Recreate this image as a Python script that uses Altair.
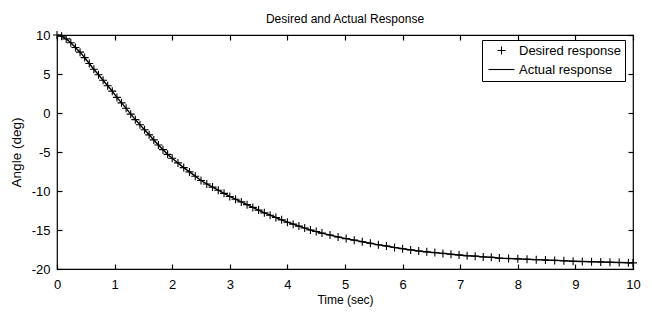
import altair as alt
import pandas as pd

# ---- data ----
time_sec = [
    0.00, 0.08, 0.16, 0.24, 0.32, 0.40, 0.48, 0.56, 0.64, 0.72, 0.80, 0.88, 0.96,
    1.04, 1.12, 1.20, 1.28, 1.36, 1.44, 1.52, 1.60, 1.68, 1.76, 1.84, 1.92, 2.00,
    2.10, 2.20, 2.30, 2.40, 2.50, 2.60, 2.70, 2.80, 2.90, 3.00, 3.10, 3.20, 3.30,
    3.40, 3.50, 3.60, 3.70, 3.80, 3.90, 4.00, 4.10, 4.20, 4.30, 4.40, 4.50, 4.60,
    4.74, 4.88, 5.02, 5.16, 5.30, 5.44, 5.58, 5.72, 5.86, 6.00, 6.14, 6.28, 6.42,
    6.56, 6.70, 6.84, 6.98, 7.12, 7.26, 7.40, 7.54, 7.68,
    7.84, 8.00, 8.16, 8.32, 8.48, 8.64, 8.80, 8.96, 9.12, 9.28, 9.44, 9.60, 9.76,
    9.92, 10.00,
]
desired_deg = [
    10.0, 9.85, 9.5, 9.0, 8.4, 7.8, 7.1, 6.35, 5.6, 4.9, 4.2, 3.5, 2.8,
    2.0, 1.3, 0.6, -0.15, -0.85, -1.5, -2.15, -2.8, -3.45, -4.1, -4.7, -5.3, -5.8,
    -6.4, -7.0, -7.55, -8.1, -8.65, -9.1, -9.5, -9.9, -10.3, -10.7, -11.05, -11.4, -11.75,
    -12.1, -12.45, -12.8, -13.1, -13.4, -13.7, -14.0, -14.25, -14.5, -14.75, -15.0, -15.2, -15.4,
    -15.65, -15.9, -16.1, -16.3, -16.5, -16.7, -16.9, -17.05, -17.25, -17.4, -17.55, -17.7, -17.8,
    -17.9, -18.0, -18.1, -18.2, -18.3, -18.35, -18.45, -18.5, -18.6,
    -18.65, -18.7, -18.75, -18.8, -18.85, -18.9, -18.95, -19.0, -19.03, -19.07, -19.1, -19.13, -19.17,
    -19.2, -19.22,
]
actual_deg = [
    10.0, 9.85, 9.5, 9.0, 8.4, 7.8, 7.1, 6.35, 5.6, 4.9, 4.2, 3.5, 2.8,
    2.0, 1.3, 0.6, -0.15, -0.85, -1.5, -2.15, -2.8, -3.45, -4.1, -4.7, -5.3, -5.8,
    -6.4, -7.0, -7.55, -8.1, -8.65, -9.1, -9.5, -9.9, -10.3, -10.7, -11.05, -11.4, -11.75,
    -12.1, -12.45, -12.8, -13.1, -13.4, -13.7, -14.0, -14.25, -14.5, -14.75, -15.0, -15.2, -15.4,
    -15.65, -15.9, -16.1, -16.3, -16.5, -16.7, -16.9, -17.05, -17.25, -17.4, -17.55, -17.7, -17.8,
    -17.9, -18.0, -18.1, -18.2, -18.3, -18.35, -18.45, -18.5, -18.6,
    -18.65, -18.7, -18.75, -18.8, -18.85, -18.9, -18.95, -19.0, -19.03, -19.07, -19.1, -19.13, -19.17,
    -19.2, -19.22,
]
series_names = ["Desired response", "Actual response"]
x_ticks = [0, 1, 2, 3, 4, 5, 6, 7, 8, 9, 10]
y_ticks = [-20, -15, -10, -5, 0, 5, 10]

df_des = pd.DataFrame({"t": time_sec, "angle": desired_deg, "series": series_names[0]})
df_act = pd.DataFrame({"t": time_sec, "angle": actual_deg, "series": series_names[1]})

FONT = "Liberation Sans"
W, H = 576, 234
PLUS = "M-1,0H1M0,-1V1"
DASH = "M-3.25,0H3.25"

xscale = alt.Scale(domain=[0, 10], nice=False, zero=False)
yscale = alt.Scale(domain=[-20, 10], nice=False, zero=False)

tick_common = dict(grid=False, domain=False, labels=False, ticks=True, tickSize=5,
                   tickColor="black", tickWidth=1.2, title=None)

# main axes: labels only
ax_x_main = alt.Axis(orient="bottom", values=x_ticks, grid=False, domain=False, ticks=False,
                     tickSize=0, labelPadding=9, labelFontSize=13, labelFont=FONT,
                     labelColor="black", labelFlush=False, labelOverlap=False,
                     labelExpr="'' + datum.value",
                     title="Time (sec)", titleFont=FONT, titleFontSize=12,
                     titleFontWeight="normal", titleColor="black", titlePadding=3)
ax_y_main = alt.Axis(orient="left", values=y_ticks, grid=False, domain=False, ticks=False,
                     tickSize=0, labelPadding=7, labelFontSize=13, labelFont=FONT,
                     labelColor="black", labelFlush=False, labelOverlap=False,
                     labelExpr="'' + datum.value",
                     title="Angle (deg)", titleFont=FONT, titleFontSize=13.5,
                     titleFontWeight="normal", titleColor="black", titlePadding=8)

# inward ticks: bottom and left edges
ax_x_in_bottom = alt.Axis(orient="top", offset=-H, values=x_ticks, **tick_common)
ax_y_in_left = alt.Axis(orient="right", offset=-W, values=y_ticks, **tick_common)
# inward ticks: top and right edges
ax_x_in_top = alt.Axis(orient="bottom", offset=-H, values=x_ticks, **tick_common)
ax_y_in_right = alt.Axis(orient="left", offset=-W, values=y_ticks, **tick_common)

line = alt.Chart(df_act).mark_line(color="black", strokeWidth=1.4).encode(
    x=alt.X("t:Q", scale=xscale, axis=ax_x_main),
    y=alt.Y("angle:Q", scale=yscale, axis=ax_y_main),
)

points = alt.Chart(df_des).mark_point(filled=False, color="black", strokeWidth=1.1,
                                      size=64, opacity=1).encode(
    x=alt.X("t:Q", scale=xscale, axis=ax_x_in_bottom),
    y=alt.Y("angle:Q", scale=yscale, axis=ax_y_in_left),
    shape=alt.Shape("series:N",
                    scale=alt.Scale(domain=series_names, range=[PLUS, DASH]),
                    legend=alt.Legend(orient="none", legendX=425, legendY=5, title=None,
                                      padding=4, strokeColor="black", fillColor="white",
                                      symbolSize=64, symbolOffset=9, labelOffset=11,
                                      labelFontSize=13, labelFont=FONT, labelColor="black",
                                      rowPadding=5, symbolStrokeColor="black",
                                      symbolStrokeWidth=1.1, cornerRadius=0)),
)

ghost = alt.Chart(df_act).mark_line(opacity=0).encode(
    x=alt.X("t:Q", scale=xscale, axis=ax_x_in_top),
    y=alt.Y("angle:Q", scale=yscale, axis=ax_y_in_right),
)

chart = alt.layer(line, points, ghost).resolve_axis(
    x="independent", y="independent"
).properties(
    width=W, height=H,
    title=alt.Title("Desired and Actual Response", font=FONT, fontSize=12,
                    fontWeight="normal", color="black", anchor="middle", offset=3),
    autosize=alt.AutoSizeParams(type="none"),
    padding={"left": 57, "top": 35, "right": 19, "bottom": 51},
    background="white",
).configure_view(stroke="black", strokeWidth=1.2)

chart.save("out.html", embed_options={"renderer": "svg", "actions": False})
